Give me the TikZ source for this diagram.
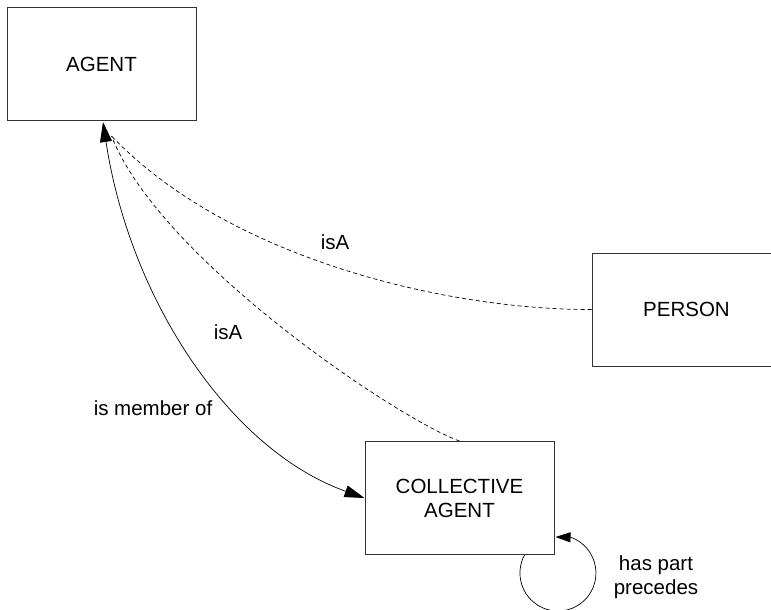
\documentclass[tikz,border=0pt]{standalone}
\usepackage{fontspec}
\setmainfont{Liberation Sans}
\usetikzlibrary{arrows.meta,calc}
\newcommand\lblfont{\fontsize{20.5}{24}\selectfont}
\begin{document}
\begin{tikzpicture}[x=1pt,y=-1pt,
  box/.style={draw=black!80,line width=1pt,minimum width=189pt,minimum height=113pt,align=center,inner sep=0pt,font=\lblfont},
  lbl/.style={font=\lblfont,inner sep=0pt,align=center},
  isa/.style={draw=black,dash pattern=on 4pt off 3pt,line width=0.7pt},
  mem/.style={draw=black,line width=0.7pt},
  twotip/.style={{Triangle[length=20pt,width=12pt]}-{Triangle[length=20pt,width=12pt]}},
  smalltip/.style={-{Triangle[length=15pt,width=10pt]}}
]
\clip (0,0) rectangle (771,610);
\fill[white] (0,0) rectangle (771,610);

\node[box] (agent) at (101.5,64) {AGENT};
\node[box] (collective) at (459.5,498) {COLLECTIVE\\AGENT};
\node[box] (person) at (686.5,309.5) {PERSON};

\coordinate (hub) at ($(agent.south)+(10,15)$);

\draw[mem,twotip] ($(agent.south)+(1.5,1)$) .. controls (130,300) and (230,450) .. (collective.west);
\draw[isa] (person.west) .. controls (450,310) and (230,260) .. (hub);
\draw[isa] (collective.north) .. controls (400,420) and (160,260) .. (hub);

\draw[mem,smalltip] ($(collective.south)+(65,0)$) arc[start angle=208.3,end angle=-70,radius=38] -- ($(collective.east)+(1,39)$);

\node[lbl] (isa1) at (335,242) {isA};
\node[lbl] (isa2) at (228,332) {isA};
\node[lbl] (member) at (153,408) {is member of};
\node[lbl] (haspart) at (656,577) {has part\\precedes};
\end{tikzpicture}
\end{document}
